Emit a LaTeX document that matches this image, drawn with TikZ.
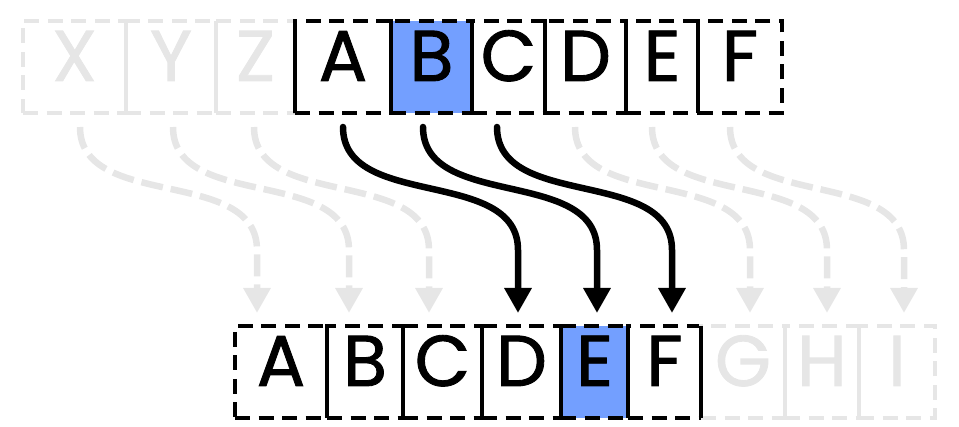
\documentclass[tikz,border=0pt]{standalone}
\usepackage{fontspec}
\setmainfont{Poppins}[FakeBold=1.2]
\usetikzlibrary{arrows.meta}
\definecolor{hl}{RGB}{115,159,255}
\definecolor{faint}{RGB}{230,230,230}
\begin{document}
\begin{tikzpicture}[x=1pt,y=-1pt,
  cell/.style={draw, line width=4pt, dash pattern=on 15pt off 8.5pt, rectangle,
    inner sep=0pt, outer sep=0pt, anchor=north west, minimum height=92pt,
    text height=50pt, text depth=22pt, font=\fontsize{72}{72}\selectfont},
  sep/.style={line width=3.5pt},
  garrow/.style={faint, line width=6.5pt, dash pattern=on 22pt off 8pt,
    -{Triangle[length=25pt,width=26pt]}},
  barrow/.style={black, line width=6.5pt, line cap=round,
    -{Triangle[length=25pt,width=26pt]}}
]
\useasboundingbox (0,0) rectangle (959,427);

% top row
\node[cell, faint, minimum width=103pt] (tX) at (23,21) {X};
\node[cell, faint, minimum width=90pt]  (tY) at (126,21) {Y};
\node[cell, faint, minimum width=79pt]  (tZ) at (216,21) {Z};
\node[cell, minimum width=96pt] (tA) at (295,21) {A};
\node[cell, fill=hl, minimum width=81pt] (tB) at (391,21) {B};
\node[cell, minimum width=73pt] (tC) at (472,21) {C};
\node[cell, minimum width=81pt] (tD) at (545,21) {D};
\node[cell, minimum width=72pt] (tE) at (626,21) {E};
\node[cell, minimum width=84pt] (tF) at (698,21) {F};

% bottom row
\node[cell, minimum width=92pt] (bA) at (235,326) {A};
\node[cell, minimum width=76pt] (bB) at (327,326) {B};
\node[cell, minimum width=79pt] (bC) at (403,326) {C};
\node[cell, minimum width=79pt] (bD) at (482,326) {D};
\node[cell, fill=hl, minimum width=67pt] (bE) at (561,326) {E};
\node[cell, minimum width=73pt] (bF) at (628,326) {F};
\node[cell, faint, minimum width=84pt] (bG) at (701,326) {G};
\node[cell, faint, minimum width=74pt] (bH) at (785,326) {H};
\node[cell, faint, minimum width=76pt] (bI) at (859,326) {I};

% separators
\foreach \n in {tX,tY,bG,bH}
  \draw[sep, faint] (\n.north east) -- (\n.south east);
\foreach \n in {tZ,tA,tB,tC,tD,tE,bA,bB,bC,bD,bE,bF}
  \draw[sep, black] (\n.north east) -- (\n.south east);

% arrows
\foreach \s/\e [count=\i] in {80/257,173/349,254/429,575/750,652/827,730/904} {
  \coordinate (gs\i) at (\s,127);
  \coordinate (ge\i) at (\e,313);
  \draw[garrow] (gs\i) to[out=-90,in=90] (ge\i |- 0,250) -- (ge\i);
}
\foreach \s/\e [count=\i] in {343/518,423/597,497/672} {
  \coordinate (ks\i) at (\s,127);
  \coordinate (ke\i) at (\e,313);
  \draw[barrow] (ks\i) to[out=-90,in=90] (ke\i |- 0,250) -- (ke\i);
}
\end{tikzpicture}
\end{document}
